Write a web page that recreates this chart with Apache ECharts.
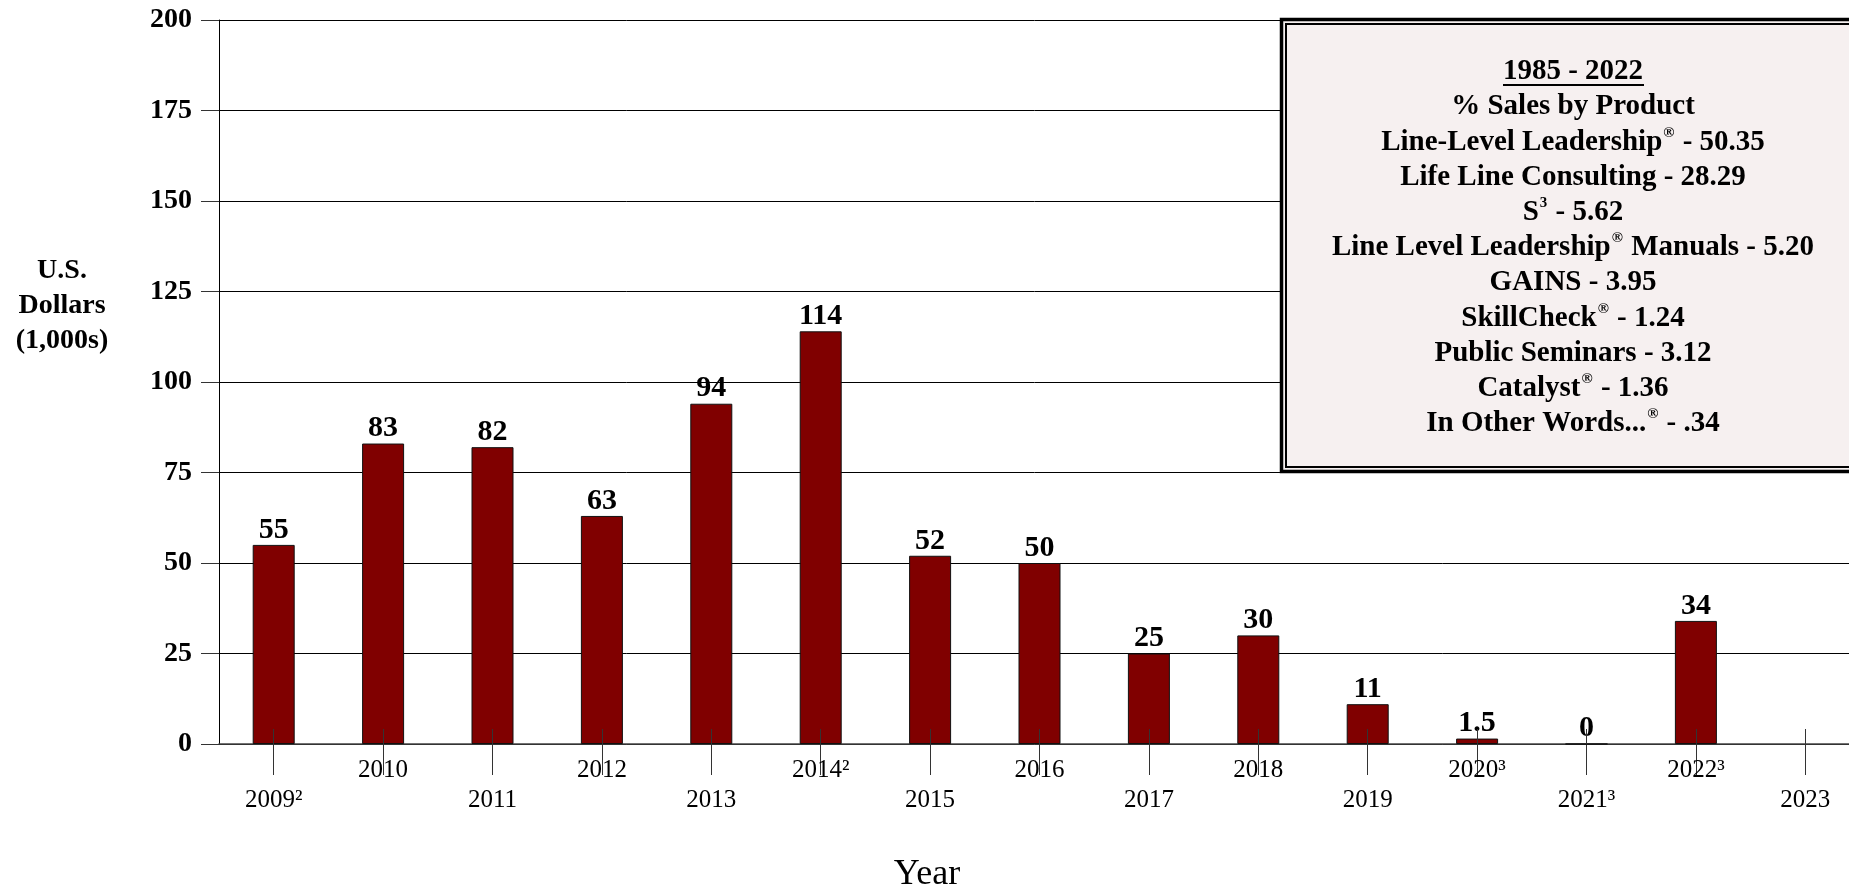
<!DOCTYPE html>
<html>
<head>
<meta charset="utf-8">
<style>
  html, body { margin: 0; padding: 0; background: #fff; }
  #chart { width: 1849px; height: 892px; }
</style>
<script src="https://cdn.jsdelivr.net/npm/echarts@6/dist/echarts.min.js"></script>
</head>
<body>
<div id="chart"></div>
<script>
// Annual sales, thousands of U.S. dollars
const years = ['2009²', '2010', '2011', '2012', '2013', '2014²', '2015', '2016',
               '2017', '2018', '2019', '2020³', '2021³', '2022³', '2023'];
const sales = [55, 83, 82, 63, 94, 114, 52, 50, 25, 30, 11, 1.5, 0, 34, null];

// Y axis ticks
const yTicks = [0, 25, 50, 75, 100, 125, 150, 175, 200];

// Share of sales by product, 1985 - 2022 (percent)
const periodLabel = '1985 - 2022';
const products = ['Line-Level Leadership®', 'Life Line Consulting', 'S³',
                  'Line Level Leadership® Manuals', 'GAINS', 'SkillCheck®',
                  'Public Seminars', 'Catalyst®', 'In Other Words...®'];
const shares = [50.35, 28.29, 5.62, 5.20, 3.95, 1.24, 3.12, 1.36, 0.34];

const SERIF = '"Liberation Serif", "Times New Roman", Times, serif';

const chart = echarts.init(document.getElementById('chart'));

// Turn ® and ³ into raised small tokens of rich text
function richLine(str) {
  return str.replace(/®/g, '{sup|®}').replace(/³/g, '{sup|3}')
            .split(/(\{sup\|[^}]*\})/)
            .map(p => p.startsWith('{sup|') ? p : (p ? '{b|' + p + '}' : ''))
            .join('');
}
function fmtShare(v) {
  return v.toFixed(2).replace(/^0/, '');
}

// Product-share box drawn over the upper right of the plot
const boxLines = ['% Sales by Product'].concat(
  products.map((p, i) => p + ' - ' + fmtShare(shares[i])));
const boxCx = 1573;
const richStyles = {
  b: { fontFamily: SERIF, fontWeight: 'bold', fontSize: 29, color: '#000', lineHeight: 34 },
  sup: { fontFamily: SERIF, fontWeight: 'bold', fontSize: 15, color: '#000',
         verticalAlign: 'top', lineHeight: 34, padding: [0, 1, 12, 1] }
};
const boxGraphics = [
  { type: 'rect', z: 100, shape: { x: 1281.5, y: 19.5, width: 600, height: 452 },
    style: { fill: '#f6f0f0', stroke: '#000', lineWidth: 3.5 } },
  { type: 'rect', z: 101, shape: { x: 1286, y: 24, width: 590, height: 443 },
    style: { fill: 'none', stroke: '#000', lineWidth: 2 } },
  { type: 'text', z: 102, x: boxCx, y: 72,
    style: { text: periodLabel, fontFamily: SERIF, fontWeight: 'bold', fontSize: 29,
             fill: '#000', align: 'center', verticalAlign: 'middle' } },
  { type: 'line', z: 102, shape: { x1: 1503, y1: 85, x2: 1644, y2: 85 },
    style: { stroke: '#000', lineWidth: 2 } }
];
boxLines.forEach((line, i) => {
  boxGraphics.push({
    type: 'text', z: 102, x: boxCx, y: 107 + i * 35.2,
    style: { text: richLine(line), rich: richStyles, align: 'center', verticalAlign: 'middle' }
  });
});

const option = {
  backgroundColor: '#fff',
  animation: false,
  // plot runs a little past the right edge of the canvas
  grid: { left: 219, top: 20, width: 1641, height: 724, containLabel: false, outerBoundsMode: 'none' },
  xAxis: [
    {
      type: 'category',
      data: years,
      axisLine: { show: true, lineStyle: { color: '#444', width: 1.5 } },
      axisTick: { show: true, alignWithLabel: true, length: 31, lineStyle: { color: '#333', width: 1 } },
      axisLabel: {
        interval: 0,
        margin: 14,
        formatter: (v, i) => (i % 2 === 0 ? '{lo|' + v + '}' : '{hi|' + v + '}'),
        rich: {
          hi: { fontFamily: SERIF, fontSize: 25, color: '#000' },
          lo: { fontFamily: SERIF, fontSize: 25, color: '#000', padding: [30, 0, 0, 0] }
        }
      },
      splitLine: { show: false }
    },
    {
      // inner half of the tick marks, drawn over the bars
      type: 'category',
      data: years,
      position: 'bottom',
      z: 5,
      axisLine: { show: false },
      axisTick: { show: true, inside: true, alignWithLabel: true, length: 15,
                  lineStyle: { color: '#333', width: 1 } },
      axisLabel: { show: false },
      splitLine: { show: false }
    }
  ],
  yAxis: {
    type: 'value',
    min: yTicks[0],
    max: yTicks[yTicks.length - 1],
    interval: yTicks[1] - yTicks[0],
    axisLine: { show: true, lineStyle: { color: '#000', width: 1 } },
    axisTick: { show: true, length: 18, lineStyle: { color: '#333', width: 1 } },
    axisLabel: {
      margin: 27,
      fontFamily: SERIF, fontWeight: 'bold', fontSize: 28, color: '#000'
    },
    splitLine: { show: true, lineStyle: { color: '#000', width: 1 } }
  },
  series: [{
    type: 'bar',
    data: sales,
    barWidth: 42,
    itemStyle: { color: '#800000', borderColor: '#111', borderWidth: 1 },
    label: {
      show: true,
      position: 'top',
      distance: 0,
      fontFamily: SERIF, fontWeight: 'bold', fontSize: 30, color: '#000',
      formatter: p => (p.value == null ? '' : String(p.value))
    }
  }],
  graphic: [
    { type: 'text', x: 62, y: 306,
      style: { text: 'U.S.\nDollars\n(1,000s)', fontFamily: SERIF, fontWeight: 'bold',
               fontSize: 28, lineHeight: 35, fill: '#000', align: 'center', verticalAlign: 'middle' } },
    { type: 'text', x: 927, y: 875,
      style: { text: 'Year', fontFamily: SERIF, fontSize: 36, fill: '#000',
               align: 'center', verticalAlign: 'middle' } }
  ].concat(boxGraphics)
};

chart.setOption(option);
</script>
</body>
</html>
